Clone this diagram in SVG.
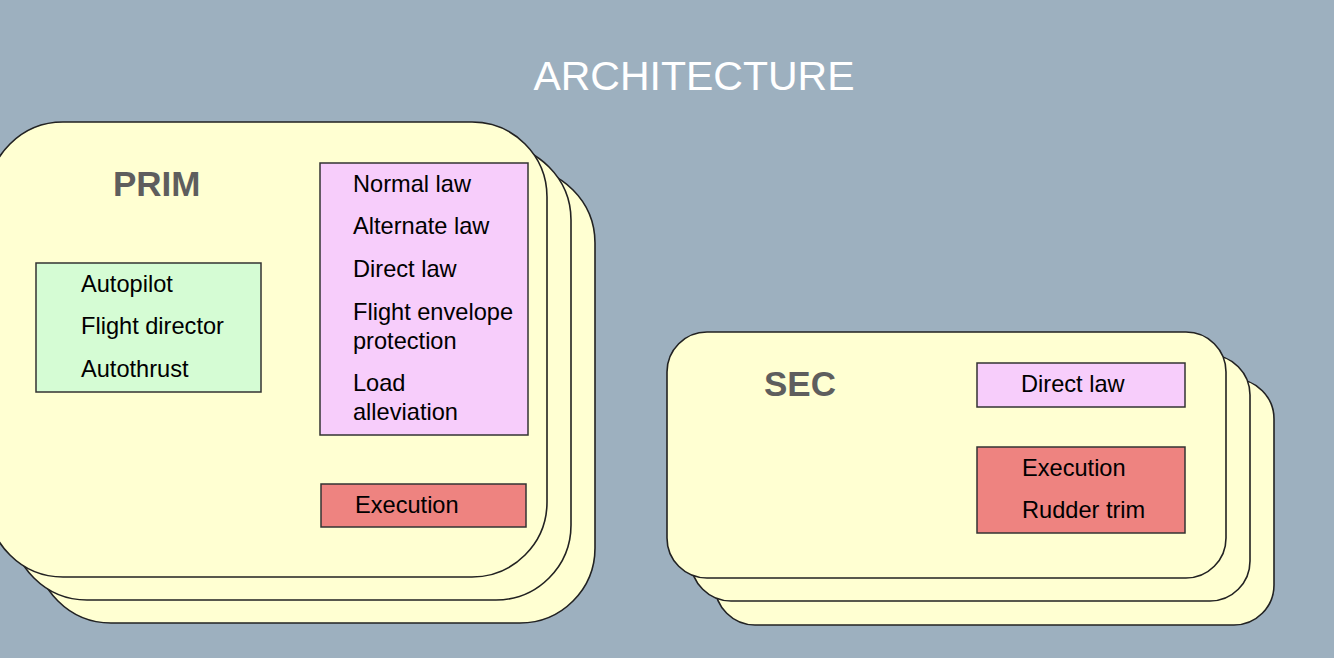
<svg xmlns="http://www.w3.org/2000/svg" width="1334" height="658" viewBox="0 0 1334 658">
<style>
.card{fill:#FFFFD2;stroke:#222;stroke-width:1.6}
.box{stroke:#333;stroke-width:1.5}
.green{fill:#D5FCD4}
.pink{fill:#F7CDFB}
.red{fill:#EE8380}
.t{font-family:"Liberation Sans",Arial,sans-serif;font-size:23.6px;fill:#000}
.h{font-family:"Liberation Sans",Arial,sans-serif;font-size:35px;font-weight:bold;fill:#5E5E5E}
.title{font-family:"Liberation Sans",Arial,sans-serif;font-size:41px;fill:#fff}
</style>
<rect x="0" y="0" width="1334" height="658" fill="#9DB0BF"/>
<text class="title" x="694" y="90" text-anchor="middle">ARCHITECTURE</text>
<g id="prim">
<rect class="card" x="36" y="168" width="559" height="455" rx="75" ry="75"/>
<rect class="card" x="12" y="145" width="559" height="455" rx="75" ry="75"/>
<rect class="card" x="-12" y="122" width="559" height="455" rx="75" ry="75"/>
<text class="h" x="113" y="196">PRIM</text>
</g>
<g id="prim-green">
<rect class="box green" x="36" y="263" width="225" height="129"/>
<text class="t" x="81" y="292">Autopilot</text>
<text class="t" x="81" y="334">Flight director</text>
<text class="t" x="81" y="377">Autothrust</text>
</g>
<g id="prim-laws">
<rect class="box pink" x="320" y="163" width="208" height="272"/>
<text class="t" x="353" y="192">Normal law</text>
<text class="t" x="353" y="234">Alternate law</text>
<text class="t" x="353" y="277">Direct law</text>
<text class="t" x="353" y="320">Flight envelope</text>
<text class="t" x="353" y="349">protection</text>
<text class="t" x="353" y="391">Load</text>
<text class="t" x="353" y="420">alleviation</text>
</g>
<g id="prim-exec">
<rect class="box red" x="321" y="484" width="205" height="43"/>
<text class="t" x="355" y="513">Execution</text>
</g>
<g id="sec">
<rect class="card" x="715" y="379" width="559" height="246" rx="40" ry="40"/>
<rect class="card" x="691" y="355" width="559" height="246" rx="40" ry="40"/>
<rect class="card" x="667" y="332" width="559" height="246" rx="40" ry="40"/>
<text class="h" x="764" y="396">SEC</text>
</g>
<g id="sec-law">
<rect class="box pink" x="977" y="363" width="208" height="44"/>
<text class="t" x="1021" y="392">Direct law</text>
</g>
<g id="sec-exec">
<rect class="box red" x="977" y="447" width="208" height="86"/>
<text class="t" x="1022" y="476">Execution</text>
<text class="t" x="1022" y="518">Rudder trim</text>
</g>
<g id="connectors"/>
</svg>
